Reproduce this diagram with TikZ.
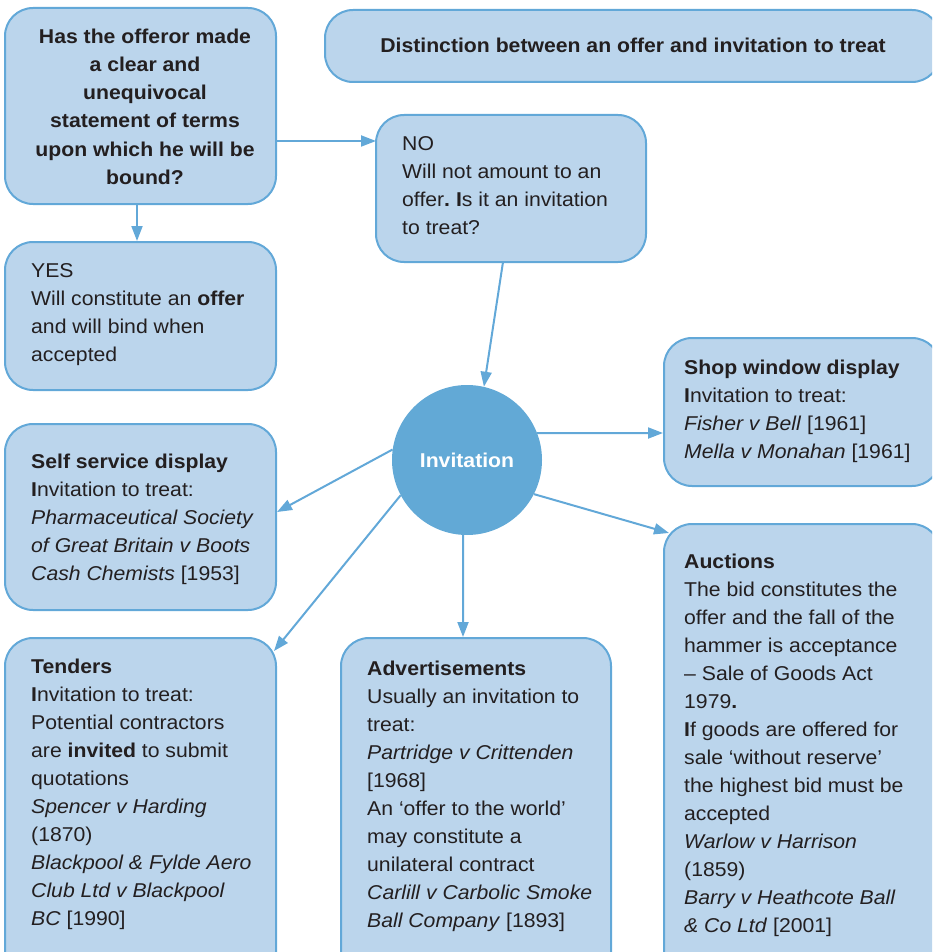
\documentclass[tikz,border=0pt]{standalone}
\usepackage{fontspec}
\setmainfont{Liberation Sans}[FakeStretch=1.06]
\usetikzlibrary{arrows.meta}
\definecolor{boxfill}{HTML}{BBD5EC}
\definecolor{boxline}{HTML}{62A8D8}
\definecolor{hubfill}{HTML}{62A9D6}
\definecolor{ink}{HTML}{231F20}
\frenchspacing
\begin{document}
\begin{tikzpicture}[x=1pt,y=-1pt,
  card/.style={draw=boxline,fill=boxfill,line width=2pt,rounded corners=28pt},
  % multi-line texts are placed by the baseline of their last line
  txt/.style={anchor=base west,inner sep=0pt,align=left,text=ink,
    font=\fontsize{20}{28}\selectfont},
  ctxt/.style={anchor=base,inner sep=0pt,align=center,text=ink,
    font=\fontsize{20}{28}\selectfont\bfseries},
  link/.style={draw=boxline,line width=2pt,-{Triangle[length=15pt,width=11pt]}},
  hub/.style={circle,fill=hubfill,minimum size=150pt,inner sep=0pt,
    text=white,font=\fontsize{20}{24}\selectfont\bfseries}]
\useasboundingbox (0,0) rectangle (932,952);
\begin{scope}
\clip (0,0) rectangle (932,952);

% boxes
\draw[card] (5,8) rectangle (276,204);
\draw[card] (325,10) rectangle (940,82);
\draw[card] (376,115) rectangle (646,262);
\draw[card] (5,242) rectangle (276,390);
\draw[card] (664,338) rectangle (940,486);
\draw[card] (5,424) rectangle (276,610);
\draw[card] (5,638) rectangle (276,990);
\draw[card] (341,638) rectangle (611,990);
\draw[card] (664,524) rectangle (940,990);

% anchor points on the box borders
\coordinate (qR) at (276,141);
\coordinate (qB) at (137,204);
\coordinate (noL) at (376,141);
\coordinate (noB) at (503,262);
\coordinate (yesT) at (137,241);
\coordinate (shopL) at (663,433);
\coordinate (selfR) at (277,512);
\coordinate (tendT) at (274,651);
\coordinate (advT) at (463,637);
\coordinate (aucT) at (669,533);

% central circle
\node[hub] (inv) at (467,460) {Invitation};

% texts
\node[ctxt] (qtext) at (145,184) {Has the offeror made\\a clear and\\unequivocal\\statement of terms\\upon which he will be\\bound?};
\node[ctxt] (title) at (633,52.5) {Distinction between an offer and invitation to treat};
\node[txt] (notext) at (402,234.5) {NO\\Will not amount to an\\offer\textbf{. I}s it an invitation\\to treat?};
\node[txt] (yestext) at (31,361.5) {YES\\Will constitute an \textbf{offer}\\and will bind when\\accepted};
\node[txt] (shoptext) at (684,458.5) {\textbf{Shop window display}\\\textbf{I}nvitation to treat:\\\textit{Fisher v Bell} [1961]\\\textit{Mella v Monahan} [1961]};
\node[txt] (selftext) at (31,580) {\textbf{Self service display}\\\textbf{I}nvitation to treat:\\\textit{Pharmaceutical Society}\\\textit{of Great Britain v Boots}\\\textit{Cash Chemists} [1953]};
\node[txt] (tendtext) at (31,925.5) {\textbf{Tenders}\\\textbf{I}nvitation to treat:\\Potential contractors\\are \textbf{invited} to submit\\quotations\\\textit{Spencer v Harding}\\(1870)\\\textit{Blackpool \& Fylde Aero}\\\textit{Club Ltd v Blackpool}\\\textit{BC} [1990]};
\node[txt] (advtext) at (367,927.5) {\textbf{Advertisements}\\Usually an invitation to\\treat:\\\textit{Partridge v Crittenden}\\{}[1968]\\An ‘offer to the world’\\may constitute a\\unilateral contract\\\textit{Carlill v Carbolic Smoke}\\\textit{Ball Company} [1893]};
\node[txt] (auctext) at (684,932.5) {\textbf{Auctions}\\The bid constitutes the\\offer and the fall of the\\hammer is acceptance\\– Sale of Goods Act\\1979\textbf{.}\\\textbf{I}f goods are offered for\\sale ‘without reserve’\\the highest bid must be\\accepted\\\textit{Warlow v Harrison}\\(1859)\\\textit{Barry v Heathcote Ball}\\\textit{\& Co Ltd} [2001]};

% connectors
\draw[link] (qR) -- (noL);
\draw[link] (qB) -- (yesT);
\draw[link] (noB) -- (inv.77);
\draw[link] (inv.21) -- (shopL);
\draw[link] (inv.172) -- (selfR);
\draw[link] (inv.208) -- (tendT);
\draw[link] (inv.-93) -- (advT);
\draw[link] (inv.-27) -- (aucT);
\end{scope}
\end{tikzpicture}
\end{document}
